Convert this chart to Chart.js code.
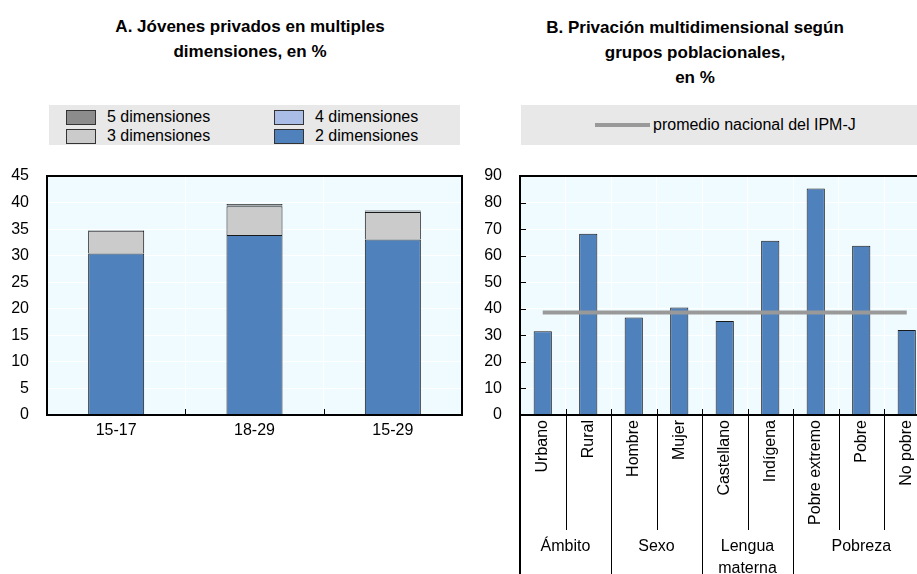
<!DOCTYPE html>
<html>
<head>
<meta charset="utf-8">
<script src="https://cdn.jsdelivr.net/npm/chart.js@4"></script>
<style>
  html, body { margin:0; padding:0; background:#fff; }
  body { width:917px; height:574px; overflow:hidden; position:relative; font-family:"Liberation Sans", Arial, sans-serif; color:#000; }
  .title { position:absolute; text-align:center; font-weight:bold; font-size:17px; line-height:25px; }
  .legend { position:absolute; background:#e8e8e8; font-size:16px; }
  .item { position:absolute; display:flex; align-items:center; height:20px; white-space:nowrap; }
  .sw { width:28px; height:13px; border:1px solid #333; margin-right:11px; box-sizing:content-box; }
  .ln { width:55px; height:4px; background:#999; margin-right:3px; }
  canvas { position:absolute; top:0; }
</style>
</head>
<body>
<div class="title" style="left:50px; top:14px; width:400px;">A. Jóvenes privados en multiples<br>dimensiones, en %</div>
<div class="title" style="left:495px; top:15px; width:400px;">B. Privación multidimensional según<br>grupos poblacionales,<br>en %</div>
<div id="legA" class="legend" style="left:49px; top:105px; width:411px; height:40px;"></div>
<div id="legB" class="legend" style="left:521px; top:105px; width:396px; height:40px;"></div>
<canvas id="cA" width="470" height="574" style="left:0;"></canvas>
<canvas id="cB" width="470" height="574" style="left:470px;"></canvas>
<script>
// ---------- Panel A data ----------
const ageGroups = ['15-17', '18-29', '15-29'];
const dim2 = [30.4, 33.9, 33.05];
const dim3 = [4.3, 5.4, 5.15];
const dim4 = [0.05, 0.15, 0.1];
const dim5 = [0.1, 0.3, 0.2];
const ticksA = { min: 0, max: 45, step: 5 };

// ---------- Panel B data ----------
const groupsB = ['Urbano', 'Rural', 'Hombre', 'Mujer', 'Castellano', 'Indígena', 'Pobre extremo', 'Pobre', 'No pobre'];
const deprivationB = [31.5, 68.25, 36.75, 40.5, 35.4, 65.6, 85.25, 63.75, 32];
const nationalAverage = 38.6;
const groupLabels = ['Ámbito', 'Sexo', 'Lengua\nmaterna', 'Pobreza'];
const groupSizes = [2, 2, 2, 3];
const ticksB = { min: 0, max: 90, step: 10 };

const FONT = '"Liberation Sans", Arial, sans-serif';
const BLUE = '#4f81bd';
const BG = '#f0fbff';

// ---------- Legends (HTML, built from dataset definitions) ----------
const dsA = [
  { label: '2 dimensiones', data: dim2, backgroundColor: BLUE },
  { label: '3 dimensiones', data: dim3, backgroundColor: '#cbcbcb' },
  { label: '4 dimensiones', data: dim4, backgroundColor: '#a9bde6' },
  { label: '5 dimensiones', data: dim5, backgroundColor: '#8c8c8c' }
];
const legPos = { '5 dimensiones': [17, 2], '4 dimensiones': [225, 2], '3 dimensiones': [17, 21], '2 dimensiones': [225, 21] };
const legA = document.getElementById('legA');
dsA.forEach(d => {
  const p = legPos[d.label];
  const el = document.createElement('div');
  el.className = 'item';
  el.style.left = p[0] + 'px'; el.style.top = p[1] + 'px';
  el.innerHTML = '<div class="sw" style="background:' + d.backgroundColor + '"></div><span>' + d.label + '</span>';
  legA.appendChild(el);
});
const legB = document.getElementById('legB');
(function () {
  const el = document.createElement('div');
  el.className = 'item';
  el.style.left = '74px'; el.style.top = '10px';
  el.innerHTML = '<div class="ln"></div><span>promedio nacional del IPM-J</span>';
  legB.appendChild(el);
})();

// ---------- Plugins ----------
function bgPlugin(id) {
  return {
    id: id,
    beforeDraw(chart) {
      const { ctx, chartArea: a } = chart;
      ctx.save();
      ctx.fillStyle = BG;
      ctx.fillRect(a.left, a.top, a.right - a.left, a.bottom - a.top);
      ctx.restore();
    }
  };
}

function boundaries(xScale, n) {
  const arr = [];
  for (let i = 1; i < n; i++) arr.push((xScale.getPixelForValue(i - 1) + xScale.getPixelForValue(i)) / 2);
  return arr;
}

const frameA = {
  id: 'frameA',
  afterDraw(chart) {
    const { ctx, chartArea: a, scales } = chart;
    ctx.save();
    ctx.strokeStyle = '#000';
    ctx.lineWidth = 1;
    boundaries(scales.x, ageGroups.length).forEach(bx => {
      const x = Math.round(bx) + 0.5;
      ctx.beginPath(); ctx.moveTo(x, a.bottom); ctx.lineTo(x, a.bottom - 6); ctx.stroke();
    });
    ctx.lineWidth = 2;
    ctx.strokeRect(a.left, a.top, a.right - a.left, a.bottom - a.top);
    ctx.restore();
  }
};

const frameB = {
  id: 'frameB',
  afterDraw(chart) {
    const { ctx, chartArea: a, scales } = chart;
    const H = chart.height;
    ctx.save();
    ctx.strokeStyle = '#000';
    ctx.lineWidth = 1;
    // y inner ticks
    scales.y.ticks.forEach(t => {
      const y = Math.round(scales.y.getPixelForValue(t.value)) + 0.5;
      ctx.beginPath(); ctx.moveTo(a.left, y); ctx.lineTo(a.left + 6, y); ctx.stroke();
    });
    // separators
    const b = boundaries(scales.x, groupsB.length);
    const groupEnds = new Set();
    let c = 0;
    groupSizes.forEach(s => { c += s; groupEnds.add(c); });
    b.forEach((bx, i) => {
      const x = Math.round(bx) + 0.5;
      const isGroup = groupEnds.has(i + 1);
      ctx.beginPath(); ctx.moveTo(x, a.bottom - 6); ctx.lineTo(x, isGroup ? H : 530); ctx.stroke();
    });
    ctx.lineWidth = 2;
    ctx.beginPath(); ctx.moveTo(a.left, a.bottom); ctx.lineTo(a.left, H); ctx.stroke();
    ctx.strokeRect(a.left, a.top, a.right - a.left, a.bottom - a.top);
    // group labels
    ctx.fillStyle = '#000';
    ctx.font = '16px ' + FONT;
    ctx.textAlign = 'center';
    ctx.textBaseline = 'middle';
    let start = 0;
    groupSizes.forEach((s, gi) => {
      const step = scales.x.getPixelForValue(1) - scales.x.getPixelForValue(0);
      const left = scales.x.getPixelForValue(start) - step / 2;
      const right = scales.x.getPixelForValue(start + s - 1) + step / 2;
      const cx = (left + right) / 2;
      groupLabels[gi].split('\n').forEach((line, li) => {
        ctx.fillText(line, cx, 547 + li * 22);
      });
      start += s;
    });
    ctx.restore();
  }
};

Chart.defaults.font.family = FONT;
Chart.defaults.font.size = 16;
Chart.defaults.color = '#000';

// ---------- Chart A ----------
new Chart(document.getElementById('cA'), {
  type: 'bar',
  data: {
    labels: ageGroups,
    datasets: dsA.map(d => ({
      label: d.label, data: d.data, backgroundColor: d.backgroundColor,
      borderColor: '#1a1a1a', borderWidth: 1, barPercentage: 0.405, categoryPercentage: 1
    }))
  },
  options: {
    responsive: false, animation: false, devicePixelRatio: 1,
    layout: { padding: { top: 176, right: 8, left: 0, bottom: 0 } },
    plugins: { legend: { display: false }, title: { display: false }, tooltip: { enabled: false } },
    scales: {
      x: {
        stacked: true,
        grid: { color: '#ffffff', lineWidth: 1, drawTicks: false, offset: true },
        border: { display: false },
        ticks: { padding: 6, font: { size: 16 } },
        afterFit(s) { s.height = 574 - 415; }
      },
      y: {
        stacked: true, min: ticksA.min, max: ticksA.max,
        grid: { color: '#ffffff', lineWidth: 1, drawTicks: false },
        border: { display: false },
        ticks: { stepSize: ticksA.step, padding: 18, font: { size: 16 } },
        afterFit(s) { s.width = 47; }
      }
    }
  },
  plugins: [bgPlugin('bgA'), frameA]
});

// ---------- Chart B ----------
new Chart(document.getElementById('cB'), {
  type: 'bar',
  data: {
    labels: groupsB,
    datasets: [
      {
        type: 'line', label: 'promedio nacional del IPM-J',
        data: groupsB.map(() => nationalAverage),
        borderColor: '#999999', borderWidth: 4, pointRadius: 0, fill: false, order: 0
      },
      {
        type: 'bar', label: 'Privación multidimensional', data: deprivationB,
        backgroundColor: BLUE, borderColor: '#1a1a1a', borderWidth: 1,
        barPercentage: 0.4, categoryPercentage: 1, order: 1
      }
    ]
  },
  options: {
    responsive: false, animation: false, devicePixelRatio: 1,
    layout: { padding: { top: 176, right: 10.5, left: 0, bottom: 0 } },
    plugins: { legend: { display: false }, title: { display: false }, tooltip: { enabled: false } },
    scales: {
      x: {
        grid: { color: '#ffffff', lineWidth: 1, drawTicks: false, offset: true },
        border: { display: false },
        ticks: { padding: 5, maxRotation: 90, minRotation: 90, autoSkip: false, font: { size: 16 } },
        afterFit(s) { s.height = 574 - 415; }
      },
      y: {
        min: ticksB.min, max: ticksB.max,
        grid: { color: '#ffffff', lineWidth: 1, drawTicks: false },
        border: { display: false },
        ticks: { stepSize: ticksB.step, padding: 18, font: { size: 16 } },
        afterFit(s) { s.width = 50; }
      }
    }
  },
  plugins: [bgPlugin('bgB'), frameB]
});
</script>
</body>
</html>
